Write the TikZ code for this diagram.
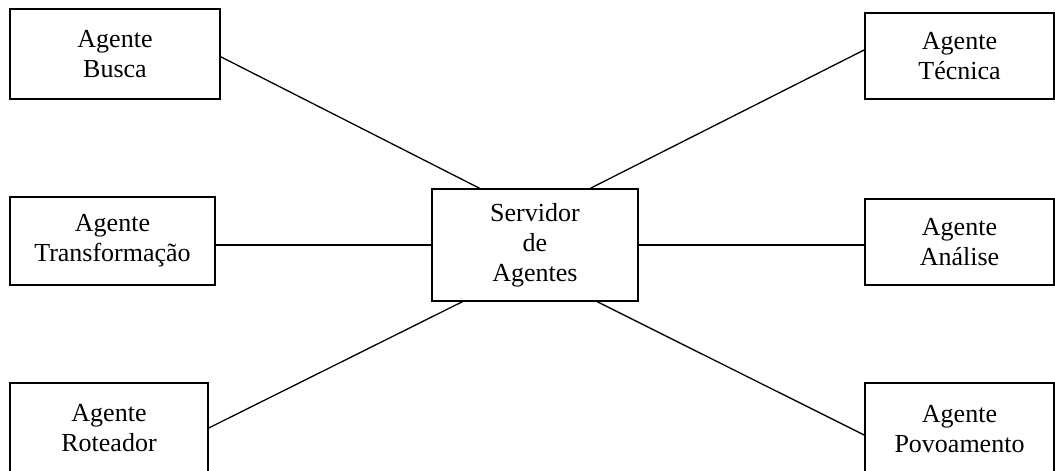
\documentclass[tikz,border=0pt]{standalone}
\usepackage{fontspec}
\setmainfont{Liberation Serif}
\usetikzlibrary{calc}
\begin{document}
\begin{tikzpicture}[x=1pt,y=-1pt,
  agentbox/.style={draw=black, line width=1.4pt, rectangle, inner sep=0pt,
    align=center, font=\fontsize{26}{30}\selectfont},
  link/.style={draw=black, line width=1.3pt}]
  \useasboundingbox (0,0) rectangle (1055,471);
  \clip (0,0) rectangle (1055,471);

  % agent boxes
  \node[agentbox, minimum width=210pt, minimum height=90pt] (busca) at (115,54) {Agente\\Busca};
  \node[agentbox, minimum width=189pt, minimum height=86pt] (tecnica) at (959.5,56) {Agente\\Técnica};
  \node[agentbox, minimum width=205pt, minimum height=88pt] (transf) at (112.5,241) {Agente\\Transformação};
  \node[agentbox, minimum width=206pt, minimum height=112pt] (serv) at (535,245) {Servidor\\de\\Agentes};
  \node[agentbox, minimum width=189pt, minimum height=86pt] (analise) at (959.5,242) {Agente\\Análise};
  \node[agentbox, minimum width=198pt, minimum height=90pt] (rot) at (109,428) {Agente\\Roteador};
  \node[agentbox, minimum width=189pt, minimum height=92pt] (povo) at (959.5,429) {Agente\\Povoamento};

  % connectors to the server
  \draw[link] ($(busca.north east)!0.53!(busca.south east)$) -- ($(serv.north west)!0.233!(serv.north east)$);
  \draw[link] ($(tecnica.north west)!0.43!(tecnica.south west)$) -- ($(serv.north west)!0.767!(serv.north east)$);
  \draw[link] (transf.east |- serv.west) -- (serv.west);
  \draw[link] (serv.east) -- (serv.east -| analise.west);
  \draw[link] (rot.east) -- ($(serv.south west)!0.15!(serv.south east)$);
  \draw[link] ($(povo.north west)!0.565!(povo.south west)$) -- ($(serv.south west)!0.80!(serv.south east)$);
\end{tikzpicture}
\end{document}
